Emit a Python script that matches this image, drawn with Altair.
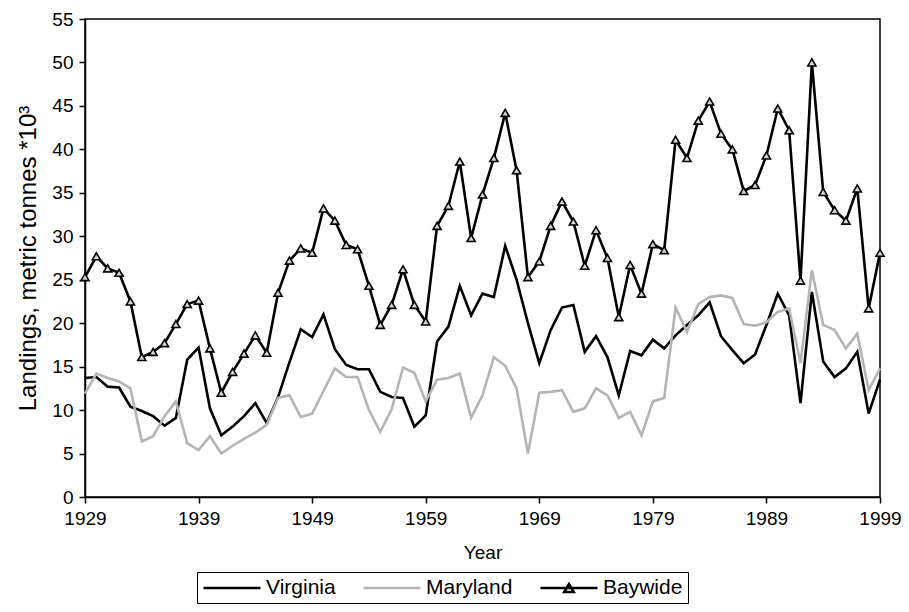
import altair as alt
import pandas as pd

years = list(range(1929, 2000))

virginia = [13.7, 13.8, 12.7, 12.6, 10.4, 9.9, 9.3, 8.2, 9.1, 15.8,
            17.2, 10.2, 7.1, 8.1, 9.3, 10.8, 8.5, 11.5, 15.5, 19.3,
            18.4, 21.0, 17.0, 15.2, 14.7, 14.7, 12.1, 11.5, 11.4, 8.1,
            9.4, 17.9, 19.6, 24.3, 20.9, 23.4, 23.0, 28.9, 25.0, 20.0,
            15.4, 19.2, 21.8, 22.1, 16.7, 18.5, 16.1, 11.7, 16.8, 16.3,
            18.1, 17.1, 18.6, 19.8, 20.9, 22.4, 18.5, 16.9, 15.4, 16.4,
            19.8, 23.4, 20.9, 10.8, 23.6, 15.6, 13.8, 14.8, 16.7, 9.6,
            13.5]

maryland = [11.9, 14.2, 13.7, 13.3, 12.5, 6.4, 7.0, 9.3, 11.0, 6.2,
            5.4, 7.0, 5.0, 5.9, 6.7, 7.4, 8.3, 11.4, 11.7, 9.2,
            9.6, 12.2, 14.8, 13.8, 13.8, 10.0, 7.5, 10.1, 14.9, 14.3,
            11.0, 13.5, 13.7, 14.2, 9.1, 11.7, 16.1, 15.1, 12.5, 5.0,
            12.0, 12.1, 12.3, 9.8, 10.2, 12.5, 11.7, 9.1, 9.8, 7.1,
            11.0, 11.4, 21.8, 19.0, 22.2, 23.0, 23.2, 22.9, 19.9, 19.7,
            20.1, 21.3, 21.7, 15.4, 26.1, 19.8, 19.2, 17.1, 18.8, 12.3,
            14.8]

baywide = [25.3, 27.7, 26.3, 25.8, 22.5, 16.1, 16.7, 17.7, 19.9, 22.2,
           22.6, 17.1, 12.0, 14.4, 16.5, 18.6, 16.6, 23.5, 27.2, 28.6,
           28.1, 33.2, 31.8, 29.0, 28.5, 24.3, 19.8, 22.1, 26.2, 22.1,
           20.2, 31.2, 33.5, 38.6, 29.8, 34.8, 39.0, 44.2, 37.6, 25.3,
           27.1, 31.2, 34.0, 31.7, 26.6, 30.7, 27.5, 20.7, 26.7, 23.4,
           29.1, 28.4, 41.1, 39.0, 43.3, 45.5, 41.8, 40.0, 35.2, 35.9,
           39.3, 44.7, 42.2, 24.9, 50.0, 35.1, 33.0, 31.8, 35.5, 21.7,
           28.1]

series_names = ["Virginia", "Maryland", "Baywide"]
series_colors = ["#000000", "#b4b4b4", "#000000"]
x_ticks = list(range(1929, 2000, 10))
y_ticks = list(range(0, 56, 5))

rows = []
for name, vals in zip(series_names, [virginia, maryland, baywide]):
    for yr, v in zip(years, vals):
        rows.append({"Year": yr, "Series": name, "Landings": v})
df = pd.DataFrame(rows)

FONT = "Liberation Sans"

x_enc = alt.X("Year:Q",
              scale=alt.Scale(domain=[1929, 1999], nice=False, zero=False),
              axis=alt.Axis(values=x_ticks, format="d", title="Year",
                            labelFlush=False, labelOverlap=False,
                            labelPadding=6, titlePadding=15))
y_enc = alt.Y("Landings:Q",
              scale=alt.Scale(domain=[0, 55], nice=False),
              axis=alt.Axis(values=y_ticks, title="Landings, metric tonnes *10³",
                            labelPadding=6, titlePadding=11, titleFontSize=24))

base = alt.Chart(df)

line_layers = []
for name, col in zip(series_names, series_colors):
    line_layers.append(
        base.transform_filter(alt.datum.Series == name)
        .mark_line(strokeWidth=2.6, color=col)
        .encode(x=x_enc, y=y_enc)
    )

tri = base.transform_filter(alt.datum.Series == "Baywide").mark_point(
    shape="triangle-up", size=65, filled=True, fill="#d6d6d6",
    stroke="black", strokeWidth=1.6, opacity=1
).encode(x=x_enc, y=y_enc)

line_path = "M-1,0L5,0"
bay_path = "M-1,0L5,0M1.5,0.42L2,-0.42L2.5,0.42Z"

leg = alt.Legend(title=None, orient="none", legendX=112, legendY=553,
                 direction="horizontal", columns=3, strokeColor="black",
                 padding=5, symbolSize=361, symbolStrokeWidth=2.5,
                 symbolOpacity=1, labelOffset=42, labelFontSize=21,
                 labelFont=FONT, labelColor="black", columnPadding=22)

legend_layer = base.transform_filter(alt.datum.Year == 1929).mark_point(
    opacity=0, strokeWidth=2.5
).encode(
    x=x_enc, y=y_enc,
    color=alt.Color("Series:N",
                    scale=alt.Scale(domain=series_names, range=series_colors),
                    legend=leg),
    shape=alt.Shape("Series:N",
                    scale=alt.Scale(domain=series_names,
                                    range=[line_path, line_path, bay_path]),
                    legend=leg),
)

chart = alt.layer(*line_layers, tri, legend_layer).properties(
    width=795, height=478,
    autosize=alt.AutoSizeParams(type="none"),
    padding={"left": 77, "top": 11, "right": 21, "bottom": 107},
).configure_view(
    stroke="black", strokeWidth=1.5
).configure_axis(
    labelFont=FONT, labelFontSize=19, labelColor="black",
    titleFont=FONT, titleFontSize=19, titleFontWeight="normal", titleColor="black",
    domainColor="black", domainWidth=1.5, tickColor="black", tickWidth=1.5,
    tickSize=6, grid=False
)

chart.save("out.html", embed_options={"renderer": "svg", "actions": False})
